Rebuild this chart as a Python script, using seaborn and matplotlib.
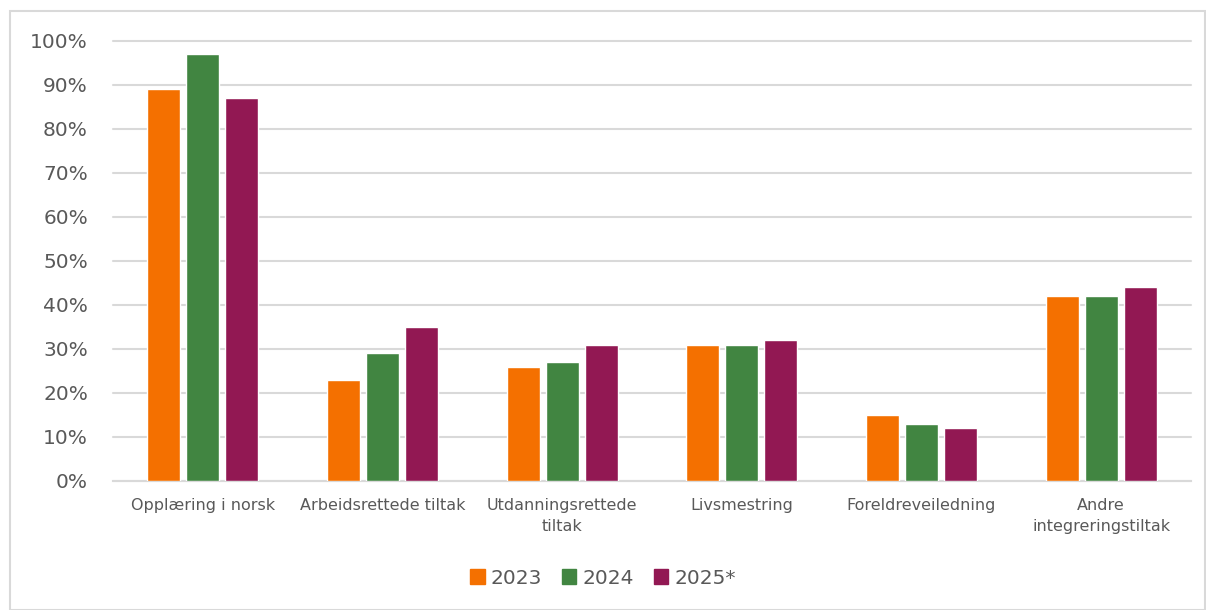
import matplotlib
matplotlib.use("Agg")
import matplotlib.pyplot as plt
import matplotlib.patches as mpatches
import seaborn as sns
import pandas as pd
from matplotlib.ticker import FuncFormatter

categories = ["Opplæring i norsk", "Arbeidsrettede tiltak", "Utdanningsrettede\ntiltak",
              "Livsmestring", "Foreldreveiledning", "Andre\nintegreringstiltak"]
years = ["2023", "2024", "2025*"]
v2023 = [89, 23, 26, 31, 15, 42]
v2024 = [97, 29, 27, 31, 13, 42]
v2025 = [87, 35, 31, 32, 12, 44]
colors = ["#F47000", "#418541", "#921853"]
yticks = [0, 10, 20, 30, 40, 50, 60, 70, 80, 90, 100]

rows = []
for y, vals in zip(years, [v2023, v2024, v2025]):
    for c, v in zip(categories, vals):
        rows.append({"cat": c, "year": y, "val": v})
df = pd.DataFrame(rows)

sns.set_theme(style="white")
plt.rcParams["font.family"] = ["DejaVu Sans"]

fig = plt.figure(figsize=(12.06, 6.10), dpi=100)
ax = fig.add_axes([113/1206, 1 - 481/610, (1191-113)/1206, (481-41)/610])

sns.barplot(data=df, x="cat", y="val", hue="year", palette=colors, ax=ax,
            width=0.65, gap=0.15, saturation=1, errorbar=None, zorder=3)

ax.set_ylim(0, 100)
ax.set_xlim(-0.5, len(categories) - 0.5)
ax.set_yticks(yticks)
ax.yaxis.set_major_formatter(FuncFormatter(lambda v, p: f"{int(v)}%"))
ax.grid(axis="y", color="#D9D9D9", linewidth=1.5, zorder=0)
for gl in ax.get_ygridlines():
    gl.set_clip_on(False)
ax.set_axisbelow(True)
for s in ["top", "right", "left"]:
    ax.spines[s].set_visible(False)
ax.spines["bottom"].set_color("#D9D9D9")
ax.spines["bottom"].set_linewidth(1.5)
ax.set_xlabel("")
ax.set_ylabel("")
ax.tick_params(axis="y", labelsize=14.5, colors="#595959", length=0, pad=18)
ax.tick_params(axis="x", labelsize=11.5, colors="#595959", length=0, pad=12)
for lbl in ax.get_xticklabels():
    lbl.set_linespacing(1.55)

handles = [mpatches.Patch(color=c, label=y) for c, y in zip(colors, years)]
if ax.get_legend():
    ax.get_legend().remove()
fig.legend(handles=handles, loc="center", bbox_to_anchor=(0.5, 1 - 578/610), ncol=3,
           frameon=False, fontsize=14.5, handlelength=0.7, handleheight=0.7,
           handletextpad=0.3, columnspacing=1.0, labelcolor="#595959")

border = mpatches.Rectangle((10/1206, 0), 1 - 10/1206 - 1/1206, 1 - 11/610,
                            transform=fig.transFigure, fill=False,
                            edgecolor="#D9D9D9", linewidth=1.5)
fig.patches.append(border)

fig.savefig("out.png", dpi=100)
